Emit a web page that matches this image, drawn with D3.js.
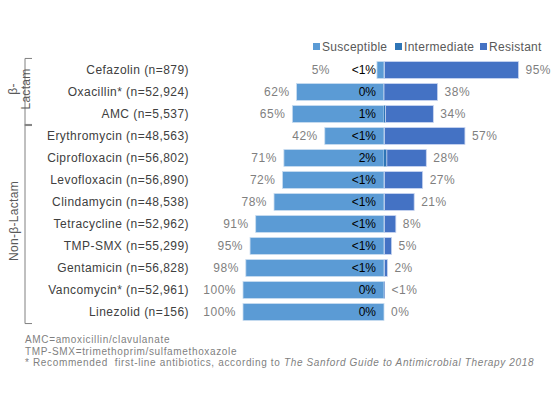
<!DOCTYPE html>
<html>
<head>
<meta charset="utf-8">
<script src="https://cdn.jsdelivr.net/npm/d3@7"></script>
<style>
  body { margin: 0; background: #fff; }
  svg { font-family: "Liberation Sans", Arial, sans-serif; }
</style>
</head>
<body>
<svg width="559" height="398"></svg>
<script>
// chart values
var drugs = ["Cefazolin (n=879)", "Oxacillin* (n=52,924)", "AMC (n=5,537)", "Erythromycin (n=48,563)",
  "Ciprofloxacin (n=56,802)", "Levofloxacin (n=56,890)", "Clindamycin (n=48,538)", "Tetracycline (n=52,962)",
  "TMP-SMX (n=55,299)", "Gentamicin (n=56,828)", "Vancomycin* (n=52,961)", "Linezolid (n=156)"];
var susceptible = [5, 62, 65, 42, 71, 72, 78, 91, 95, 98, 100, 100];
var intermediate = [0.4, 0, 1, 0.4, 2, 0.4, 0.4, 0.4, 0.4, 0.4, 0, 0];
var resistant = [95, 38, 34, 57, 28, 27, 21, 8, 5, 2, 0.4, 0];
var susLabels = ["5%", "62%", "65%", "42%", "71%", "72%", "78%", "91%", "95%", "98%", "100%", "100%"];
var intLabels = ["<1%", "0%", "1%", "<1%", "2%", "<1%", "<1%", "<1%", "<1%", "<1%", "0%", "0%"];
var resLabels = ["95%", "38%", "34%", "57%", "28%", "27%", "21%", "8%", "5%", "2%", "<1%", "0%"];
var groups = [["β-", "Lactam"], ["Non-β-Lactam"]];
var groupRows = [[0, 2], [3, 11]];
var seriesNames = ["Susceptible", "Intermediate", "Resistant"];
var colors = ["#5b9bd5", "#2e75b6", "#4472c4"];
var notes = ["AMC=amoxicillin/clavulanate", "TMP-SMX=trimethoprim/sulfamethoxazole"];

var svg = d3.select("svg");
var x = d3.scaleLinear().domain([-100, 100]).range([243, 525]);
var y = d3.scaleBand().domain(drugs).range([59, 323]).paddingInner(0.23).paddingOuter(0.115);
var cx = x(0);

var rows = drugs.map(function(d, i) {
  return {name: d, s: susceptible[i], m: intermediate[i], r: resistant[i],
          sl: susLabels[i], ml: intLabels[i], rl: resLabels[i]};
});

var g = svg.append("g");

// susceptible goes left
g.selectAll(".sus").data(rows).enter().append("rect")
  .attr("x", function(d) { return x(-d.s); })
  .attr("y", function(d) { return y(d.name); })
  .attr("width", function(d) { return cx - x(-d.s); })
  .attr("height", y.bandwidth())
  .attr("fill", colors[0])
  .attr("stroke", "#c9dcf0").attr("stroke-width", 0.8);

// intermediate then resistant go right
g.selectAll(".int").data(rows).enter().append("rect")
  .attr("x", cx)
  .attr("y", function(d) { return y(d.name); })
  .attr("width", function(d) { return x(d.m) - cx; })
  .attr("height", y.bandwidth())
  .attr("fill", colors[1]);

g.selectAll(".res").data(rows).enter().append("rect")
  .attr("x", function(d) { return x(d.m); })
  .attr("y", function(d) { return y(d.name); })
  .attr("width", function(d) { return x(d.m + d.r) - x(d.m); })
  .attr("height", y.bandwidth())
  .attr("fill", colors[2])
  .attr("stroke", "#c9d5f0").attr("stroke-width", function(d) { return d.r > 1 ? 0.8 : 0; });

// labels
g.selectAll(".sl").data(rows).enter().append("text")
  .attr("x", function(d) { return Math.min(x(-d.s), cx - 47) - 7; })
  .attr("y", function(d) { return y(d.name) + y.bandwidth() / 2 + 4; })
  .attr("text-anchor", "end").attr("font-size", 12).attr("letter-spacing", 0.5).attr("fill", "#7f7f7f")
  .text(function(d) { return d.sl; });

g.selectAll(".ml").data(rows).enter().append("text")
  .attr("x", cx - 8)
  .attr("y", function(d) { return y(d.name) + y.bandwidth() / 2 + 4; })
  .attr("text-anchor", "end").attr("font-size", 12).attr("fill", "#000")
  .text(function(d) { return d.ml; });

g.selectAll(".rl").data(rows).enter().append("text")
  .attr("x", function(d) { return x(d.m + d.r) + 7; })
  .attr("y", function(d) { return y(d.name) + y.bandwidth() / 2 + 4; })
  .attr("font-size", 12).attr("letter-spacing", 0.5).attr("fill", "#7f7f7f")
  .text(function(d) { return d.rl; });

// category axis
var yAxis = svg.append("g")
  .attr("transform", "translate(196,0)")
  .call(d3.axisLeft(y).tickSize(0).tickPadding(7));
yAxis.select(".domain").remove();
yAxis.selectAll("text").attr("font-size", 12).attr("fill", "#404040").attr("letter-spacing", 0.45)
  .attr("font-family", "Liberation Sans, Arial, sans-serif");

// group brackets
var step = y.step();
groupRows.forEach(function(gr, i) {
  var top = y(drugs[gr[0]]) - step * 0.14;
  var bot = y(drugs[gr[1]]) + y.bandwidth() + step * 0.14;
  svg.append("path")
    .attr("d", "M32," + top + "H25V" + bot + "H32")
    .attr("fill", "none").attr("stroke", "#808080").attr("stroke-width", 1);
  var mid = (top + bot) / 2;
  var t = svg.append("text")
    .attr("transform", "translate(" + (groups[i].length > 1 ? 17 : 18) + "," + (mid - 3) + ") rotate(-90)")
    .attr("text-anchor", "middle").attr("font-size", 12).attr("letter-spacing", 0.3).attr("fill", "#595959");
  groups[i].forEach(function(line, j) {
    t.append("tspan").attr("x", 0).attr("dy", j === 0 ? 0 : 13).text(line);
  });
});

// legend
var legX = [313, 395, 480];
seriesNames.forEach(function(s, i) {
  svg.append("rect").attr("x", legX[i]).attr("y", 43).attr("width", 7).attr("height", 7).attr("fill", colors[i]);
  svg.append("text").attr("x", legX[i] + 9).attr("y", 51).attr("font-size", 12).attr("letter-spacing", 0.3)
    .attr("fill", "#595959").text(s);
});

// footnotes
notes.forEach(function(n, i) {
  svg.append("text").attr("x", 25).attr("y", 343 + i * 11.5)
    .attr("font-size", 10).attr("letter-spacing", 0.65).attr("fill", "#7f7f7f").text(n);
});
var last = svg.append("text").attr("x", 25).attr("y", 366)
  .attr("font-size", 10).attr("letter-spacing", 0.65).attr("fill", "#7f7f7f").attr("xml:space", "preserve");
last.append("tspan").text("* Recommended  first-line antibiotics, according to ");
last.append("tspan").attr("font-style", "italic").text("The Sanford Guide to Antimicrobial Therapy 2018");
</script>
</body>
</html>
